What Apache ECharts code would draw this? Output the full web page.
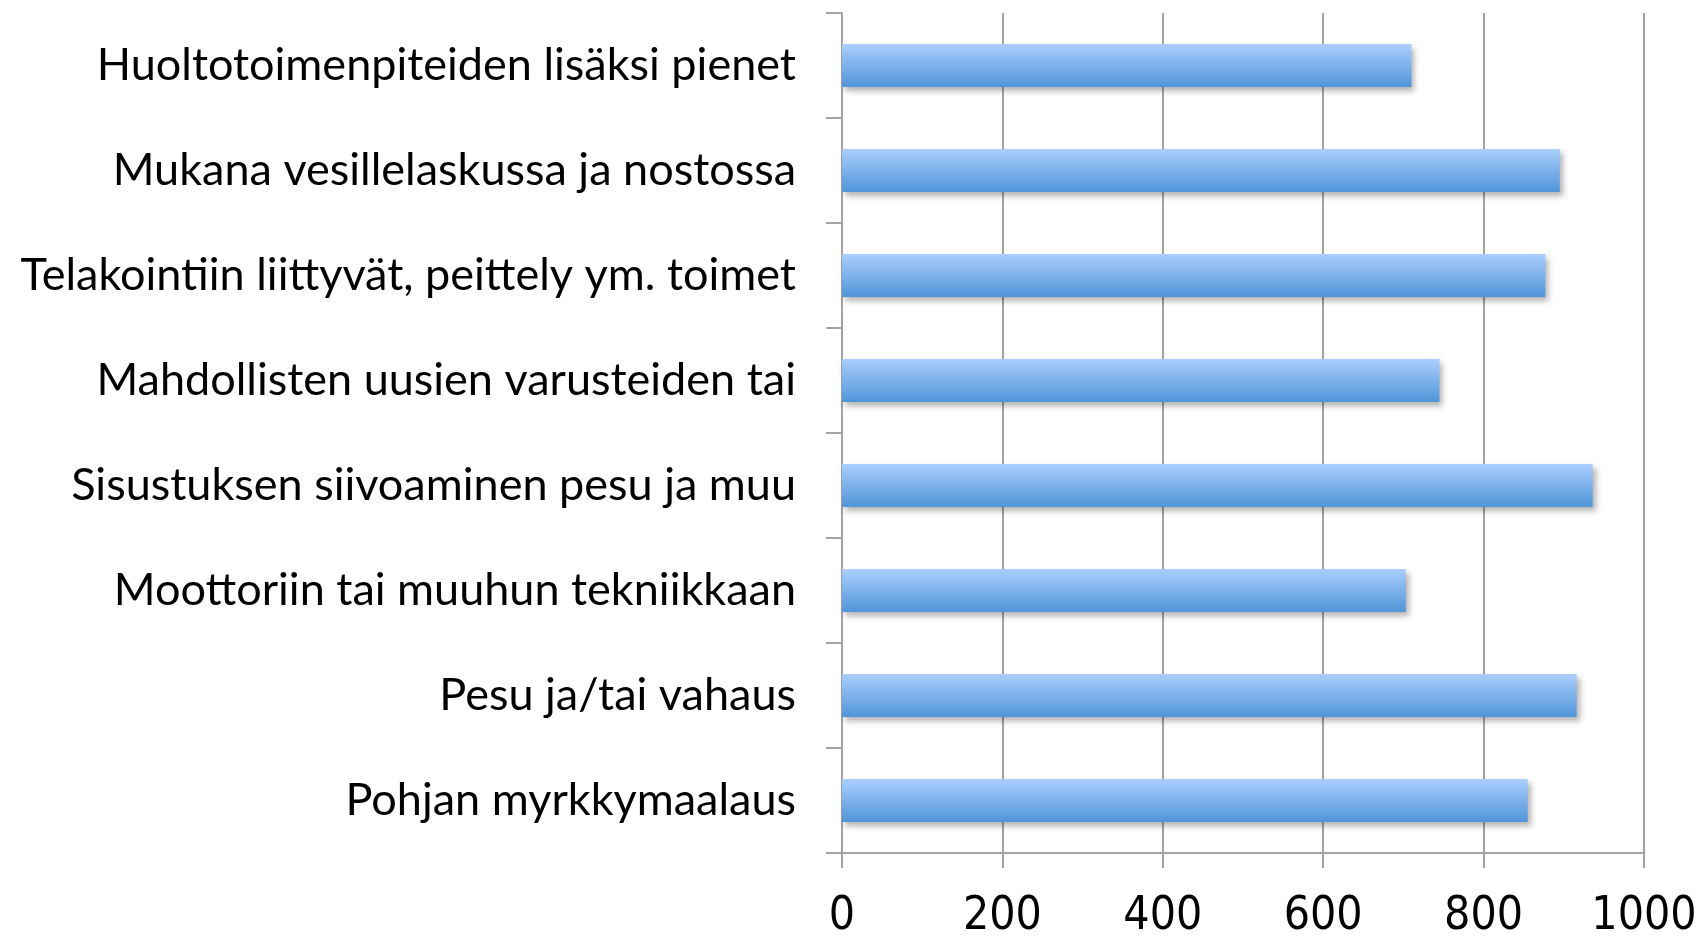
<!DOCTYPE html>
<html>
<head>
<meta charset="utf-8">
<title>Veneen huoltotoimet</title>
<script src="https://cdn.jsdelivr.net/npm/echarts@6/dist/echarts.min.js"></script>
<style>
  html, body { margin: 0; padding: 0; background: #fff; }
  #chart { width: 1699px; height: 936px; }
</style>
</head>
<body>
<div id="chart"></div>
<script>
// categories listed top to bottom as in the picture
const categories = [
  "Huoltotoimenpiteiden lisäksi pienet",
  "Mukana vesillelaskussa ja nostossa",
  "Telakointiin liittyvät, peittely ym. toimet",
  "Mahdollisten uusien varusteiden tai",
  "Sisustuksen siivoaminen pesu ja muu",
  "Moottoriin tai muuhun tekniikkaan",
  "Pesu ja/tai vahaus",
  "Pohjan myrkkymaalaus"
];
const values = [710, 895, 877, 745, 936, 703, 916, 855];
const xTicks = [0, 200, 400, 600, 800, 1000];

(function () {
  const chartDom = document.getElementById("chart");
  const chart = echarts.init(chartDom);
  const gridColor = "#a3a3a3";

  const option = {
    animation: false,
    grid: { left: 842, right: 55, top: 13, bottom: 83, outerBoundsMode: "none" },
    xAxis: {
      type: "value",
      min: xTicks[0],
      max: xTicks[xTicks.length - 1],
      interval: xTicks[1] - xTicks[0],
      axisLine: { show: true, lineStyle: { color: gridColor, width: 2 } },
      axisTick: { show: true, length: 15, lineStyle: { color: gridColor, width: 2 } },
      splitLine: { show: true, lineStyle: { color: gridColor, width: 2 } },
      axisLabel: {
        margin: 41,
        color: "#000",
        fontSize: 46,
        fontFamily: "'Liberation Sans Narrow', 'DejaVu Sans Condensed', Lato, sans-serif",
        formatter: (v) => String(v)
      }
    },
    yAxis: {
      type: "category",
      inverse: true,
      data: categories,
      axisLine: { show: true, lineStyle: { color: gridColor, width: 2 } },
      axisTick: { show: true, length: 16, lineStyle: { color: gridColor, width: 2 } },
      axisLabel: {
        margin: 46,
        color: "#000",
        fontSize: 45,
        fontFamily: "Lato, 'Open Sans', sans-serif"
      }
    },
    series: [
      {
        type: "bar",
        data: values,
        barWidth: 43,
        itemStyle: {
          color: new echarts.graphic.LinearGradient(0, 0, 0, 1, [
            { offset: 0, color: "#abcefd" },
            { offset: 1, color: "#5095d9" }
          ]),
          shadowColor: "rgba(0, 0, 0, 0.3)",
          shadowBlur: 6,
          shadowOffsetX: 3,
          shadowOffsetY: 4
        }
      }
    ]
  };

  chart.setOption(option);
  window.addEventListener("resize", () => chart.resize());
})();
</script>
</body>
</html>
